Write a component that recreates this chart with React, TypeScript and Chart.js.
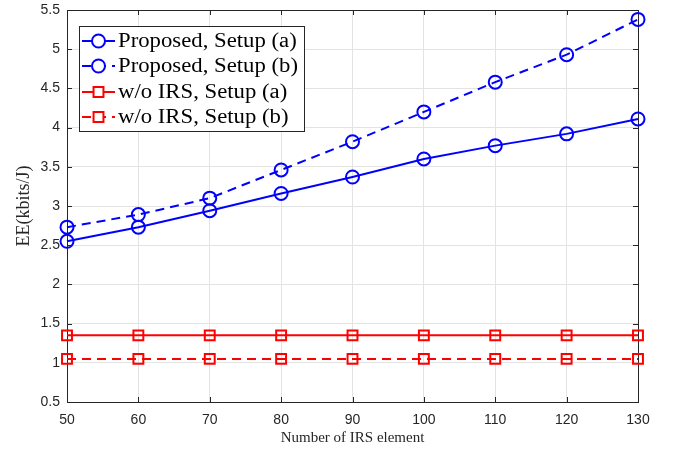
import React, { useEffect, useRef } from "react";
import { Chart, registerables } from "chart.js";

Chart.register(...registerables);

const xValues = [50, 60, 70, 80, 90, 100, 110, 120, 130];
const proposedA = [2.55, 2.73, 2.94, 3.16, 3.37, 3.6, 3.77, 3.92, 4.11];
const proposedB = [2.73, 2.89, 3.1, 3.46, 3.82, 4.2, 4.58, 4.93, 5.38];
const noIrsA = [1.35, 1.35, 1.35, 1.35, 1.35, 1.35, 1.35, 1.35, 1.35];
const noIrsB = [1.05, 1.05, 1.05, 1.05, 1.05, 1.05, 1.05, 1.05, 1.05];
const seriesLabels = [
  "Proposed, Setup (a)",
  "Proposed, Setup (b)",
  "w/o IRS, Setup (a)",
  "w/o IRS, Setup (b)",
];
const xTitle = "Number of IRS element";
const yTitle = "EE(kbits/J)";

const BLUE = "#0000ff";
const RED = "#ff0000";
const AXIS = "#262626";
const DASH = [9, 6];

const boxPlugin = {
  id: "matlabBox",
  beforeDatasetsDraw(chart: any) {
    const { ctx, chartArea: a, scales } = chart;
    ctx.save();
    ctx.strokeStyle = AXIS;
    ctx.lineWidth = 1;
    ctx.beginPath();
    const L = 5;
    scales.x.ticks.forEach((t: any) => {
      const px = Math.round(scales.x.getPixelForValue(t.value)) + 0.5;
      ctx.moveTo(px, a.bottom);
      ctx.lineTo(px, a.bottom - L);
      ctx.moveTo(px, a.top);
      ctx.lineTo(px, a.top + L);
    });
    scales.y.ticks.forEach((t: any) => {
      const py = Math.round(scales.y.getPixelForValue(t.value)) + 0.5;
      ctx.moveTo(a.left, py);
      ctx.lineTo(a.left + L, py);
      ctx.moveTo(a.right, py);
      ctx.lineTo(a.right - L, py);
    });
    ctx.stroke();
    ctx.strokeRect(
      Math.round(a.left) + 0.5,
      Math.round(a.top) + 0.5,
      Math.round(a.right - a.left),
      Math.round(a.bottom - a.top)
    );
    ctx.restore();
  },
};

const legendPlugin = {
  id: "matlabLegend",
  afterDraw(chart: any) {
    const { ctx } = chart;
    const x0 = 79;
    const y0 = 26;
    const w = 225;
    const h = 105;
    ctx.save();
    ctx.fillStyle = "#ffffff";
    ctx.fillRect(x0, y0, w, h);
    ctx.strokeStyle = AXIS;
    ctx.lineWidth = 1;
    ctx.strokeRect(x0 + 0.5, y0 + 0.5, w, h);
    const rows = [41, 66, 92, 117];
    ctx.font = '20px "Liberation Serif", serif';
    const ref = ctx.measureText(seriesLabels[1]).width;
    const sx = 180 / ref;
    chart.data.datasets.forEach((ds: any, i: number) => {
      const y = rows[i];
      ctx.strokeStyle = ds.borderColor;
      ctx.lineWidth = ds.borderWidth;
      ctx.setLineDash(ds.borderDash || []);
      ctx.beginPath();
      ctx.moveTo(82, y);
      ctx.lineTo(115, y);
      ctx.stroke();
      ctx.setLineDash([]);
      ctx.lineWidth = ds.pointBorderWidth;
      ctx.beginPath();
      ctx.fillStyle = "#ffffff";
      if (ds.pointStyle === "circle") {
        ctx.arc(98.5, y, ds.pointRadius, 0, Math.PI * 2);
      } else {
        const s = ds.pointRadius * Math.SQRT1_2;
        ctx.rect(98.5 - s, y - s, 2 * s, 2 * s);
      }
      ctx.fill();
      ctx.stroke();
      ctx.save();
      ctx.translate(118, y + 1);
      ctx.scale(sx, 1);
      ctx.fillStyle = "#000000";
      ctx.font = '20px "Liberation Serif", serif';
      ctx.textBaseline = "middle";
      ctx.textAlign = "left";
      ctx.fillText(ds.label, 0, 0);
      ctx.restore();
    });
    ctx.restore();
  },
};

export default function App() {
  const ref = useRef<HTMLCanvasElement>(null);
  useEffect(() => {
    document.body.style.margin = "0";
    const mk = (label: string, data: number[], color: string, dashed: boolean, style: string, r: number) => ({
      label,
      data: xValues.map((x, i) => ({ x, y: data[i] })),
      borderColor: color,
      backgroundColor: "rgba(0,0,0,0)",
      borderWidth: 2,
      borderDash: dashed ? DASH : [],
      pointStyle: style,
      pointRadius: r,
      pointHoverRadius: r,
      pointBorderWidth: 2,
      pointBorderColor: color,
      pointBackgroundColor: "rgba(0,0,0,0)",
      tension: 0,
      clip: false as any,
    });
    const chart = new Chart(ref.current!, {
      type: "line",
      data: {
        datasets: [
          mk(seriesLabels[0], proposedA, BLUE, false, "circle", 6.5),
          mk(seriesLabels[1], proposedB, BLUE, true, "circle", 6.5),
          mk(seriesLabels[2], noIrsA, RED, false, "rect", 7),
          mk(seriesLabels[3], noIrsB, RED, true, "rect", 7),
        ] as any,
      },
      options: {
        animation: false,
        responsive: false,
        events: [],
        layout: { padding: { left: 0, top: 10, right: 40, bottom: 0 } },
        plugins: { legend: { display: false }, tooltip: { enabled: false } },
        scales: {
          x: {
            type: "linear",
            min: 50,
            max: 130,
            afterFit: (s: any) => {
              s.height = 51;
              s.paddingLeft = 0;
              s.paddingRight = 0;
            },
            ticks: {
              stepSize: 10,
              color: AXIS,
              padding: 10,
              font: { family: '"Liberation Sans", Arial, sans-serif', size: 14 },
            },
            grid: { color: "#e3e3e3", drawTicks: false, lineWidth: 1 },
            border: { display: false },
            title: {
              display: true,
              text: xTitle,
              color: "#262626",
              padding: { top: 0, bottom: 6 },
              font: { family: '"Liberation Serif", serif', size: 15 },
            },
          },
          y: {
            type: "linear",
            min: 0.5,
            max: 5.5,
            afterFit: (s: any) => {
              s.width = 67;
              s.paddingTop = 0;
              s.paddingBottom = 0;
            },
            ticks: {
              stepSize: 0.5,
              color: AXIS,
              padding: 7,
              callback: (v: any) => String(v),
              font: { family: '"Liberation Sans", Arial, sans-serif', size: 14 },
            },
            grid: { color: "#e3e3e3", drawTicks: false, lineWidth: 1 },
            border: { display: false },
            title: {
              display: true,
              text: yTitle,
              color: "#262626",
              padding: { top: 13, bottom: 4 },
              font: { family: '"Liberation Serif", serif', size: 18 },
            },
          },
        },
      },
      plugins: [boxPlugin, legendPlugin],
    });
    return () => chart.destroy();
  }, []);
  return (
    <div style={{ width: 678, height: 453, background: "#fff" }}>
      <canvas ref={ref} width={678} height={453} style={{ display: "block" }} />
    </div>
  );
}
